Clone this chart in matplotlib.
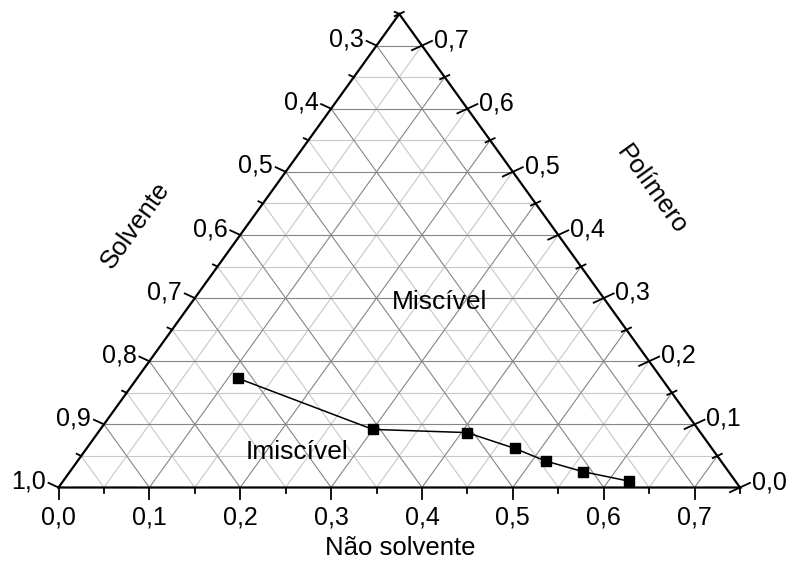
import numpy as np
import matplotlib
matplotlib.use("Agg")
import matplotlib.pyplot as plt

plt.rcParams['font.family'] = ['Liberation Sans', 'DejaVu Sans']

# binodal points (mass fractions)
nao_solvente = [0.111, 0.300, 0.406, 0.471, 0.515, 0.565, 0.623]
polimero = [0.173, 0.092, 0.087, 0.062, 0.042, 0.025, 0.010]
solvente = [0.716, 0.608, 0.507, 0.467, 0.443, 0.410, 0.367]

# axis ticks of the partial ternary (each component spans 0.75)
ns_ticks = [0.0, 0.1, 0.2, 0.3, 0.4, 0.5, 0.6, 0.7]
s_ticks = [1.0, 0.9, 0.8, 0.7, 0.6, 0.5, 0.4, 0.3]
p_ticks = [0.0, 0.1, 0.2, 0.3, 0.4, 0.5, 0.6, 0.7]
span = 0.75

R3 = np.sqrt(3) / 2
W, H, DPI = 790, 567, 100
left_px, right_px, base_px, top_px = 58.5, 740.0, 487.5, 14.0

fig = plt.figure(figsize=(W / DPI, H / DPI), dpi=DPI)
ax = fig.add_axes([left_px / W, (H - base_px) / H,
                   (right_px - left_px) / W, (base_px - top_px) / H])
ax.set_xlim(0, span)
ax.set_ylim(0, span * R3)
ax.axis('off')

sx = (right_px - left_px) / span          # px per data unit, x
sy = (base_px - top_px) / (span * R3)      # px per data unit, y


def to_xy(ns, p):
    ns = np.asarray(ns, dtype=float)
    p = np.asarray(p, dtype=float)
    return ns + p / 2, p * R3


def px(x_px, y_px):
    return (x_px - left_px) / sx, (base_px - y_px) / sy


def unit_px(d):
    dx, dy = d[0] * sx, d[1] * sy
    n = np.hypot(dx, dy)
    return dx / n, dy / n


def offset(x, y, u, L):
    return x + u[0] * L / sx, y + u[1] * L / sy


def fmt(v):
    return f"{v:.1f}".replace('.', ',')


# grid lines
vals = np.round(np.arange(0.05, span, 0.05), 2)
for v in vals:
    major = round(v * 20) % 2 == 0
    col = '#858585' if major else '#c8c8c8'
    z = 2 if major else 1
    for ns, p in (([0, span - v], [v, v]),      # constant polymer
                  ([v, v], [0, span - v]),      # constant non-solvent
                  ([v, 0], [0, v])):            # constant solvent
        x, y = to_xy(ns, p)
        ax.plot(x, y, color=col, lw=0.8, zorder=z, clip_on=False)

# triangle frame
ax.plot([0, span, span / 2, 0], [0, 0, span * R3, 0], color='black',
        lw=1.6, zorder=5, clip_on=False, solid_joinstyle='miter')

u_left = unit_px((-R3, 0.5))
u_right = unit_px((R3, 0.5))
u_down = unit_px((0.0, -1.0))
minor = np.round(np.arange(0, span + 0.001, 0.05), 2)

for v in minor:
    major = round(v * 20) % 2 == 0
    L = 11 if major else 5
    # bottom axis: non-solvent
    x, y = to_xy(v, 0)
    x1, y1 = offset(x, y, u_down, L)
    ax.plot([x, x1], [y, y1], color='black', lw=1.3, zorder=6, clip_on=False)
    # left axis: solvent
    x, y = to_xy(0, v)
    x1, y1 = offset(x, y, u_left, L)
    ax.plot([x, x1], [y, y1], color='black', lw=1.3, zorder=6, clip_on=False)
    # right axis: polymer (ticks cross the edge)
    x, y = to_xy(span - v, v)
    x0, y0 = offset(x, y, u_right, -L)
    x1, y1 = offset(x, y, u_right, L)
    ax.plot([x0, x1], [y0, y1], color='black', lw=1.3, zorder=6, clip_on=False)

fs = 18
for v in ns_ticks:
    x, y = to_xy(v, 0)
    x1, y1 = offset(x, y, u_down, 18)
    ax.text(x1, y1, fmt(v), ha='center', va='top', fontsize=fs)
for v in s_ticks:
    x, y = to_xy(0, 1 - v)
    x1, y1 = offset(x, y, u_left, 14)
    ax.text(x1, y1, fmt(v), ha='right', va='center', fontsize=fs)
for v in p_ticks:
    x, y = to_xy(span - v, v)
    x1, y1 = offset(x, y, u_right, 13)
    ax.text(x1, y1, fmt(v), ha='left', va='center', fontsize=fs)

ang = np.degrees(np.arctan2(base_px - top_px, (right_px - left_px) / 2))
ax.text(*px(400, 548), 'Não solvente', ha='center', va='center', fontsize=18.5)
ax.text(*px(135, 225), 'Solvente', ha='center', va='center', fontsize=18.5,
        rotation=ang, rotation_mode='anchor')
ax.text(*px(652, 190), 'Polímero', ha='center', va='center', fontsize=18.5,
        rotation=-ang, rotation_mode='anchor')
ax.text(*px(440, 302), 'Miscível', ha='center', va='center', fontsize=19)
ax.text(*px(297, 452), 'Imiscível', ha='center', va='center', fontsize=19)

# binodal curve
tot = np.array(nao_solvente) + np.array(polimero) + np.array(solvente)
bx, by = to_xy(np.array(nao_solvente) / tot, np.array(polimero) / tot)
ax.plot(bx, by, color='black', lw=1.1, marker='s', ms=7.5, zorder=8,
        clip_on=False)

fig.savefig('out.png', dpi=DPI)
